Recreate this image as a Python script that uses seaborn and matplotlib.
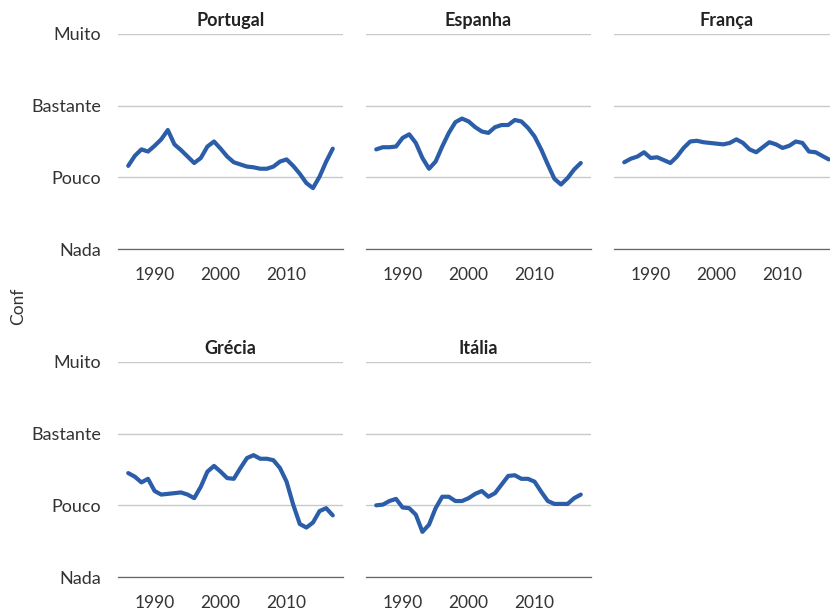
import numpy as np
import pandas as pd
import matplotlib
matplotlib.use('Agg')
import matplotlib.pyplot as plt
import seaborn as sns

# %%
# Confidence levels per country, 1986-2017 (1=Nada ... 4=Muito)
years = list(range(1986, 2018))
countries = ['Portugal', 'Espanha', 'França', 'Grécia', 'Itália']

portugal = [2.16, 2.30, 2.39, 2.36, 2.44, 2.53, 2.66, 2.46, 2.38, 2.29,
            2.20, 2.27, 2.43, 2.50, 2.40, 2.29, 2.21, 2.18, 2.15, 2.14,
            2.12, 2.12, 2.15, 2.22, 2.25, 2.16, 2.05, 1.92, 1.85, 2.01,
            2.22, 2.40]
espanha = [2.39, 2.42, 2.42, 2.43, 2.55, 2.60, 2.48, 2.27, 2.12, 2.22,
           2.43, 2.62, 2.77, 2.82, 2.78, 2.70, 2.64, 2.62, 2.70, 2.73,
           2.73, 2.80, 2.78, 2.69, 2.57, 2.39, 2.18, 1.98, 1.90, 1.99,
           2.11, 2.20]
franca = [2.21, 2.26, 2.29, 2.35, 2.27, 2.28, 2.24, 2.20, 2.29, 2.41,
          2.50, 2.51, 2.49, 2.48, 2.47, 2.46, 2.48, 2.53, 2.48, 2.39,
          2.35, 2.42, 2.49, 2.46, 2.41, 2.44, 2.50, 2.48, 2.36, 2.35,
          2.30, 2.25]
grecia = [2.45, 2.40, 2.32, 2.37, 2.20, 2.15, 2.16, 2.17, 2.18, 2.15,
          2.10, 2.26, 2.47, 2.55, 2.47, 2.38, 2.37, 2.52, 2.66, 2.70,
          2.65, 2.65, 2.63, 2.52, 2.33, 2.01, 1.74, 1.69, 1.76, 1.92,
          1.96, 1.86]
italia = [2.00, 2.01, 2.06, 2.09, 1.97, 1.96, 1.87, 1.63, 1.73, 1.96,
          2.12, 2.12, 2.06, 2.06, 2.10, 2.16, 2.20, 2.12, 2.17, 2.29,
          2.41, 2.42, 2.37, 2.37, 2.33, 2.19, 2.06, 2.02, 2.02, 2.02,
          2.10, 2.15]

level_values = [1, 2, 3, 4]
level_labels = ['Nada', 'Pouco', 'Bastante', 'Muito']
year_ticks = [1990, 2000, 2010]

# %%
# Long format for seaborn
series = [portugal, espanha, franca, grecia, italia]
df = pd.concat(
    [pd.DataFrame({'year': years, 'conf': vals, 'pais': name})
     for name, vals in zip(countries, series)],
    ignore_index=True
)

# %%
sns.set_theme(style='white')
plt.rcParams['font.family'] = ['Lato', 'DejaVu Sans']

line_color = '#2B5DA8'
grid = sns.relplot(
    data=df, x='year', y='conf', col='pais', col_order=countries,
    col_wrap=3, kind='line', color=line_color, linewidth=3.0,
    height=2.5, aspect=1.0, facet_kws={'sharex': True, 'sharey': True}
)
fig = grid.fig
fig.set_size_inches(8.3, 6.12)

W, H = 830, 612
lefts = [118, 366, 614, 118, 366]
tops = [34, 34, 34, 362, 362]
width, height = 225, 215

for i, (ax, name) in enumerate(zip(grid.axes.flat, countries)):
    ax.set_position([lefts[i] / W, 1 - (tops[i] + height) / H, width / W, height / H])
    ax.set_ylim(1, 4)
    ax.set_yticks(level_values)
    ax.set_xticks(year_ticks)
    ax.set_xlabel('')
    ax.set_ylabel('')
    ax.set_title(name, fontsize=13, fontweight='bold', color='#222222', pad=6)
    ax.yaxis.grid(True, color='#C9C9C9', linewidth=1.0)
    ax.xaxis.grid(False)
    for side in ['top', 'left', 'right']:
        ax.spines[side].set_visible(False)
    ax.spines['bottom'].set_color('#666666')
    ax.spines['bottom'].set_linewidth(0.9)
    ax.tick_params(axis='x', length=0, pad=13, labelsize=12.5, labelcolor='#333333',
                   labelbottom=True)
    ax.tick_params(axis='y', length=0, pad=12, labelsize=13, labelcolor='#333333')
    if i in (0, 3):
        ax.set_yticklabels(level_labels)
    else:
        ax.tick_params(axis='y', labelleft=False)

fig.text(18 / W, 1 - 306 / H, 'Conf', rotation=90, ha='center', va='center',
         fontsize=12.5, color='#333333')

fig.savefig('out.png', dpi=100)
